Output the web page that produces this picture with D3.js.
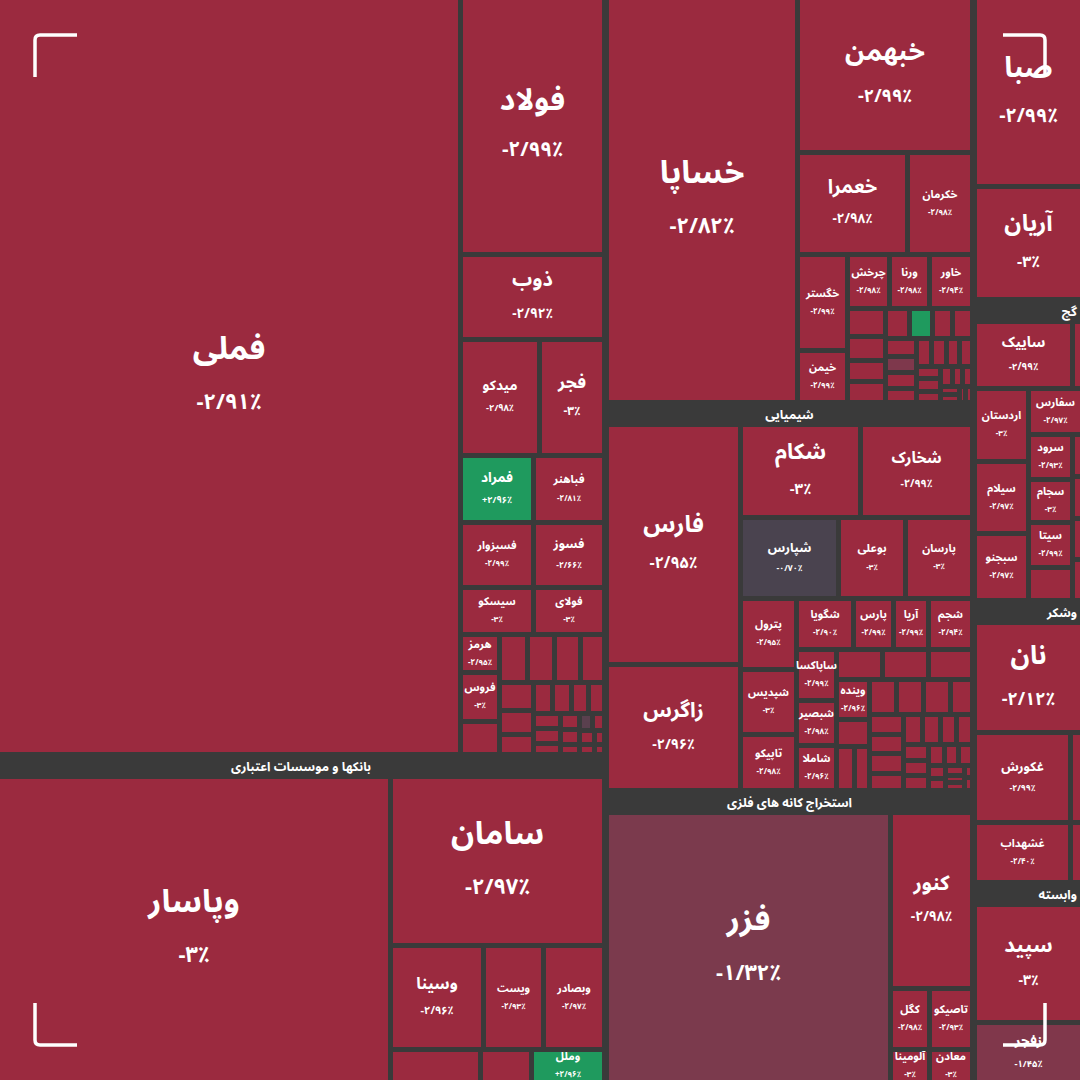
<!DOCTYPE html>
<html><head><meta charset="utf-8">
<script src="https://cdn.jsdelivr.net/npm/d3@7"></script>
<style>html,body{margin:0;padding:0;background:#3a3a3a;}svg{display:block}</style>
</head><body>
<svg id="chart" width="1080" height="1080"></svg>
<script>
// ---------------- DATA ----------------
const sectorNames = ["", "بانکها و موسسات اعتباری", "", "شیمیایی", "استخراج کانه های فلزی", "", "گچ", "وشکر", "وابسته"];

const symbols = ["فملی","فولاد","ذوب","میدکو","فجر","فمراد","فباهنر","فسبزوار","فسوز","سیسکو","فولای","هرمز","فروس",
  "وپاسار","سامان","وسینا","ویست","وبصادر","وملل",
  "خساپا","خبهمن","خعمرا","خکرمان","خگستر","خیمن","چرخش","ورنا","خاور",
  "فارس","زاگرس","شکام","شخارک","شپارس","بوعلی","پارسان","پترول","شپدیس","تاپیکو","شگویا","پارس","آریا","شجم","ساپاکسا","شبصیر","شاملا","وینده",
  "فزر","کنور","کگل","تاصیکو","آلومینا","معادن",
  "صبا","آریان","ساییک","اردستان","سیلام","سبجنو","سفارس","سرود","سجام","سیتا",
  "نان","غکورش","غشهداب","سپید","زفجر"];

const caps = [3497,369,122,91,75,49,48,47,46,34,33,15,19,
  1286,387,102,66,68,26,
  770,271,112,66,48,26,22.7,21.6,23.2,
  340,178,119,109.5,84,57.4,57,42.5,38.3,33,30.8,21.7,19.1,23.4,21.7,19.1,18.7,14,
  828,156,26,28.2,14.1,15.2,
  207,125,71.1,43.3,42.7,39.1,27.9,21.8,20.9,21.8,
  131.2,95.6,63.7,145.4,73.9];

const changes = [-2.91,-2.99,-2.92,-2.98,-3,2.96,-2.81,-2.99,-2.66,-3,-3,-2.95,-3,
  -3,-2.97,-2.96,-2.93,-2.97,2.96,
  -2.82,-2.99,-2.98,-2.98,-2.99,-2.99,-2.98,-2.98,-2.94,
  -2.95,-2.96,-3,-2.99,-0.70,-3,-3,-2.95,-3,-2.98,-2.90,-2.99,-2.99,-2.94,-2.99,-2.98,-2.96,-2.96,
  -1.32,-2.98,-2.98,-2.93,-3,-3,
  -2.99,-3,-2.99,-3,-2.97,-2.97,-2.97,-2.93,-3,-2.99,
  -2.12,-2.99,-2.40,-3,-1.45];

// small cells whose names are not readable in the picture
const metalEndCaps = [13];
const metalEndChanges = [-3];
const metalSmallCaps = [13.3,12.9,12.2,11.5,9.5,7.7,6.75,6.2,6,5.4,5,4,4,3,3,3,2,2,2,2,1.5,1.5,1];
const metalSmallChanges = [-3,-3,-3,-3,-3,-3,-3,-3,-3,-3,-3,-3,-3,-3,-3,-3,-3,-0.9,-3,-3,-3,-3,-3];
const bankCutCaps = [32,18];
const bankCutChanges = [-3,-3];
const autoSmallCaps = [11,9,8,8,7.5,7,6,6,5.5,5,5,4.5,4,4,3.5,3.5,3,3,2.5,2.5,2,2,1.5,1.5,1,1];
const autoSmallChanges = [-3,-3,-3,-3,-3,2.9,-3,-3,-3,-1.4,-3,-3,-3,-3,-3,-3,-3,-3,-3,-3,-3,-3,-3,-3,-3,-3];
const chemTopCaps = [14.7,14.7,14.0];
const chemTopChanges = [-3,-3,-3];
const chemLeftCaps = [9.6,8.5,6.9];
const chemLeftChanges = [-3,-3,-3];
const chemRestCaps = [10.2,10.2,10.2,8,7,7,7,6,6,5.5,5,5,4.5,4,4,3.5,3,3,2.5,2,2,1.5,1.5,1,1];
const chemRestChanges = [-3,-3,-3,-3,-3,-3,-3,-3,-3,-3,-3,-3,-3,-3,-3,-3,-3,-3,-3,-3,-3,-3,-3,-3,-3];
const gachTopCutCaps = [7.1];
const gachTopCutChanges = [-3];
const gachBlankCaps = [16];
const gachBlankChanges = [-3];
const gachCutCaps = [4.5,4.5,4.5,4.4];
const gachCutChanges = [-3,-3,-3,-3];
const foodCutCaps = [11.7,7.8];
const foodCutChanges = [-3,-3];

// nesting of the treemap (x = side by side, y = stacked); "~" = group of small cells
const plan = ["x",
  ["y",
    {sector: 0, tile: ["x", "فملی",
      ["y", "فولاد", "ذوب", ["x","میدکو","فجر"], ["x","فمراد","فباهنر"], ["x","فسبزوار","فسوز"], ["x","سیسکو","فولای"],
        ["x", ["y","هرمز","فروس","~metalEnd"], "~metalSmall"]]]},
    {sector: 1, tile: ["x", "وپاسار",
      ["y", "سامان", ["x","وسینا","ویست","وبصادر"], ["x","~bankCut","وملل"]]]}
  ],
  ["y",
    {sector: 2, tile: ["x", "خساپا",
      ["y", "خبهمن", ["x","خعمرا","خکرمان"],
        ["x", ["y","خگستر","خیمن"], ["y", ["x","چرخش","ورنا","خاور"], "~autoSmall"]]]]},
    {sector: 3, tile: ["x", ["y","فارس","زاگرس"],
      ["y", ["x","شکام","شخارک"], ["x","شپارس","بوعلی","پارسان"],
        ["x", ["y","پترول","شپدیس","تاپیکو"],
          ["y", ["x","شگویا","پارس","آریا","شجم"],
            ["x", ["y","ساپاکسا","شبصیر","شاملا"],
              ["y", "~chemTop", ["x", ["y","وینده","~chemLeft"], "~chemRest"]]]]]]]},
    {sector: 4, tile: ["x", "فزر", ["y","کنور",["x","کگل","تاصیکو"],["x","آلومینا","معادن"]]]}
  ],
  ["y",
    {sector: 5, tile: ["y","صبا","آریان"]},
    {sector: 6, tile: ["y", ["x","ساییک","~gachTopCut"],
      ["x", ["y","اردستان","سیلام","سبجنو"],
        ["y","سفارس", ["x", ["y","سرود","سجام","سیتا","~gachBlank"], "~gachCut"]]]]},
    {sector: 7, tile: ["y","نان", ["x", ["y","غکورش","غشهداب"], "~foodCut"]]},
    {sector: 8, tile: ["y","سپید","زفجر"]}
  ]
];

// ---------------- BUILD ----------------
const fillers = {
  metalEnd:[metalEndCaps,metalEndChanges], metalSmall:[metalSmallCaps,metalSmallChanges],
  bankCut:[bankCutCaps,bankCutChanges], autoSmall:[autoSmallCaps,autoSmallChanges],
  chemTop:[chemTopCaps,chemTopChanges], chemLeft:[chemLeftCaps,chemLeftChanges], chemRest:[chemRestCaps,chemRestChanges],
  gachTopCut:[gachTopCutCaps,gachTopCutChanges], gachBlank:[gachBlankCaps,gachBlankChanges], gachCut:[gachCutCaps,gachCutChanges],
  foodCut:[foodCutCaps,foodCutChanges]
};

function build(spec) {
  if (typeof spec === "string") {
    if (spec[0] === "~") {
      const [c, ch] = fillers[spec.slice(1)];
      return {dir: "q", children: c.map((v, i) => ({name: "", value: v, change: ch[i]}))};
    }
    const i = symbols.indexOf(spec);
    return {name: spec, value: caps[i], change: changes[i]};
  }
  if (!Array.isArray(spec)) {
    return {header: sectorNames[spec.sector], dir: spec.tile[0], children: spec.tile.slice(1).map(build)};
  }
  return {dir: spec[0], children: spec.slice(1).map(build)};
}

function tile(node, x0, y0, x1, y1) {
  const d = node.data.dir;
  if (d === "x") d3.treemapDice(node, x0, y0, x1, y1);
  else if (d === "y") d3.treemapSlice(node, x0, y0, x1, y1);
  else d3.treemapSquarify(node, x0, y0, x1, y1);
}

const W = 1080, H = 1080;
const root = d3.hierarchy(build(plan)).sum(d => d.value || 0);
d3.treemap().size([W, H]).tile(tile)
  .paddingInner(d => d.depth === 0 ? 7 : 5)
  .paddingTop(d => d.data.header ? 22 : 0)
  .round(true)(root);

const color = d3.scaleLinear()
  .domain([-2.1, -1.32, -0.7, 0, 2])
  .range(["#9b2a3f", "#7b3a4d", "#4a434f", "#3f4a48", "#1f9a5e"])
  .clamp(true);

const FONT = '"Noto Sans Arabic","DejaVu Sans",sans-serif';
const faDigits = "۰۱۲۳۴۵۶۷۸۹";
const fa = s => s.replace(/\d/g, c => faDigits[+c]).replace(".", "/");
function pctText(v) {
  const a = Math.abs(v);
  const s = Number.isInteger(a) ? String(a) : a.toFixed(2);
  return (v < 0 ? "-" : "+") + fa(s) + "٪";
}

const svg = d3.select("#chart");
svg.append("rect").attr("width", W).attr("height", H).attr("fill", "#3a3a3a");

const leaves = root.leaves();
svg.append("g").selectAll("rect").data(leaves).join("rect")
  .attr("x", d => d.x0).attr("y", d => d.y0)
  .attr("width", d => Math.max(0, d.x1 - d.x0)).attr("height", d => Math.max(0, d.y1 - d.y0))
  .attr("fill", d => color(d.data.change));

// sector headers
const heads = root.descendants().filter(d => d.data.header);
svg.append("g").selectAll("text").data(heads).join("text")
  .attr("x", d => d.x1 >= W - 1 ? d.x1 - 3 : (d.x0 + d.x1) / 2)
  .attr("y", d => d.y0 + 10)
  .attr("text-anchor", d => d.x1 >= W - 1 ? "end" : "middle")
  .attr("dominant-baseline", "central")
  .attr("fill", "#ffffff").attr("font-family", FONT).attr("font-weight", "bold").attr("font-size", 12.5)
  .text(d => d.data.header);

// cell labels: font size from measured text width, cell width and height
const named = leaves.filter(d => d.data.name);
const probe = svg.append("text").attr("font-family", FONT).attr("font-weight", "bold").attr("font-size", 100);
named.forEach(d => {
  probe.text(d.data.name);
  const tw = probe.node().getComputedTextLength() / 100;
  const w = d.x1 - d.x0, h = d.y1 - d.y0;
  d.fs = Math.max(11, Math.min(32, h * 0.25, 0.47 * w / tw));
});
probe.remove();

const lab = svg.append("g").selectAll("g").data(named).join("g");
lab.append("text")
  .attr("x", d => (d.x0 + d.x1) / 2)
  .attr("y", d => (d.y0 + d.y1) / 2 - 0.85 * d.fs)
  .attr("text-anchor", "middle").attr("dominant-baseline", "central")
  .attr("fill", "#fff").attr("font-family", FONT).attr("font-weight", "bold")
  .attr("font-size", d => d.fs)
  .text(d => d.data.name);
lab.append("text")
  .attr("x", d => (d.x0 + d.x1) / 2)
  .attr("y", d => (d.y0 + d.y1) / 2 + 0.8 * d.fs)
  .attr("text-anchor", "middle").attr("dominant-baseline", "central")
  .attr("direction", "ltr")
  .attr("fill", "#fff").attr("font-family", FONT).attr("font-weight", "bold")
  .attr("font-size", d => Math.max(8, d.fs * 0.68))
  .text(d => pctText(d.data.change));

// decorative corner brackets
const m = 35, L = 42, r = 5;
const corners = [
  `M${m},${m + L} V${m + r} Q${m},${m} ${m + r},${m} H${m + L}`,
  `M${W - m - L},${m} H${W - m - r} Q${W - m},${m} ${W - m},${m + r} V${m + L}`,
  `M${m},${H - m - L} V${H - m - r} Q${m},${H - m} ${m + r},${H - m} H${m + L}`,
  `M${W - m},${H - m - L} V${H - m - r} Q${W - m},${H - m} ${W - m - r},${H - m} H${W - m - L}`
];
svg.append("g").selectAll("path").data(corners).join("path")
  .attr("d", d => d).attr("fill", "none").attr("stroke", "#fff").attr("stroke-width", 3.5);
</script>
</body></html>
